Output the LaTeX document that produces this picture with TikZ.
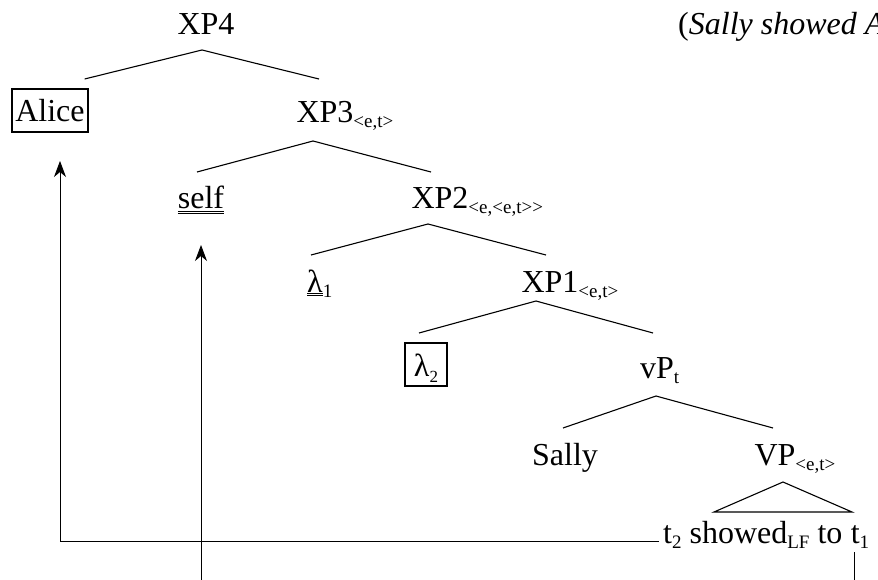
\documentclass[tikz,border=0pt]{standalone}
\usepackage{fontspec}
\setmainfont{Liberation Serif}
\usetikzlibrary{arrows.meta}

\newcommand{\tsub}[1]{\raisebox{-5pt}{\fontsize{19}{20}\selectfont #1}}
\newcommand{\dul}[1]{$\underline{\underline{\hbox{#1}}}$}

\begin{document}
\begin{tikzpicture}[x=1pt,y=1pt,>={Stealth[length=16pt,width=12pt,inset=5pt]},
    font=\fontsize{32}{38}\selectfont]
  \tikzset{
    lbl/.style={anchor=base,inner sep=0pt,text height=22pt,text depth=0pt,outer ysep=15pt},
    boxed/.style={anchor=base,draw,line width=2pt,inner xsep=3pt,inner ysep=2pt,
      text height=31pt,text depth=8pt},
    branch/.style={line width=1.1pt},
    move/.style={->,line width=0.9pt},
    trace/.style={line width=0.9pt}
  }
  \useasboundingbox (0,0) rectangle (878,-580);
  \coordinate (bot) at (0,-580);

  % tree
  \node[lbl] (xp4) at (206,-35) {XP4};
  \node[boxed] (alice) at (50,-122) {Alice};
  \node[lbl] (xp3) at (325,-123) {XP3\rlap{\tsub{<e,t>}}};
  \node[lbl] (self) at (201,-209) {\dul{self}};
  \node[lbl] (xp2) at (440,-209) {XP2\rlap{\tsub{<e,<e,t>{}>}}};
  \node[lbl] (lam1) at (315,-292) {\dul{λ}\rlap{\tsub{1}}};
  \node[lbl] (xp1) at (550,-292) {XP1\rlap{\tsub{<e,t>}}};
  \node[boxed,minimum width=42pt] (lam2) at (426,-376)
    {λ\raisebox{-6pt}{\fontsize{17}{18}\selectfont 2}};
  \node[lbl] (vp) at (657,-378) {vP\rlap{\tsub{t}}};
  \node[lbl] (sally) at (565,-465) {Sally};
  \node[lbl] (VP) at (775,-465) {VP\rlap{\tsub{<e,t>}}};
  \node[anchor=base west,inner sep=0pt] (str) at (663,-543)
    {t\tsub{2} showed\tsub{LF} to};
  \node[anchor=base west,inner sep=0pt] (t1) at ([xshift=8pt]str.base east)
    {t\tsub{1}};
  \node[anchor=base west,inner sep=0pt] (gloss) at (678,-35)
    {(\textit{Sally showed A}};

  % branches
  \draw[branch] ([xshift=-4pt,yshift=9pt]alice.north east)
    -- ([xshift=-4pt]xp4.south) -- ([xshift=-6pt,yshift=7pt]xp3.north);
  \draw[branch] ([xshift=-4pt]self.north)
    -- ([xshift=-12pt,yshift=-3pt]xp3.south) -- ([xshift=-9pt]xp2.north);
  \draw[branch] ([xshift=-4pt]lam1.north)
    -- ([xshift=-12pt]xp2.south) -- ([xshift=-4pt]xp1.north);
  \draw[branch] ([xshift=-7pt,yshift=9pt]lam2.north)
    -- ([xshift=-14pt,yshift=6pt]xp1.south) -- ([xshift=-4pt,yshift=8pt]vp.north);
  \draw[branch] ([xshift=-2pt]sally.north)
    -- ([xshift=-1pt,yshift=-3pt]vp.south) -- ([xshift=-2pt]VP.north);
  \draw[branch] ([xshift=8pt,yshift=-2pt]VP.south)
    -- ++(69,-30) -- ++(-138,0) -- cycle;

  % movement
  \draw[move,shorten >=28pt] ([xshift=-4pt,yshift=2pt]str.base west)
    -| ([xshift=10pt]alice.south);
  \draw[move,shorten >=21pt] (self.south |- bot) -- (self.south);
  \draw[trace] ([xshift=4pt,yshift=-9pt]t1.base west) -- ([xshift=4pt]t1.base west |- bot);
\end{tikzpicture}
\end{document}
